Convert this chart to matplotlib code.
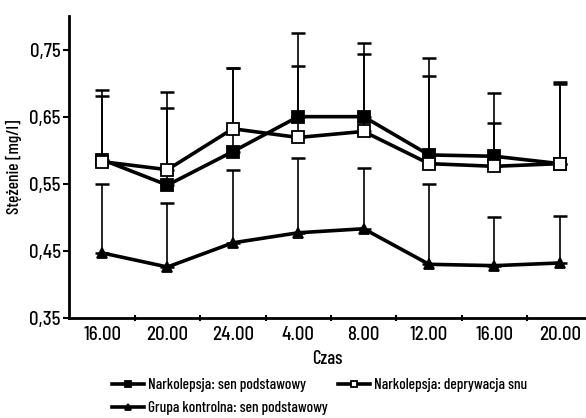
import numpy as np
import matplotlib
matplotlib.use("Agg")
import matplotlib.pyplot as plt

plt.rcParams["font.family"] = ["Barlow Condensed", "Liberation Sans", "DejaVu Sans"]
plt.rcParams["font.weight"] = 500
plt.rcParams["axes.labelweight"] = 500

# Data
times = ["16.00", "20.00", "24.00", "4.00", "8.00", "12.00", "16.00", "20.00"]
narko_base = [0.586, 0.548, 0.598, 0.650, 0.650, 0.593, 0.591, 0.580]
narko_base_sd = [0.104, 0.139, 0.125, 0.124, 0.110, 0.145, 0.095, 0.122]
narko_depr = [0.583, 0.571, 0.632, 0.619, 0.628, 0.580, 0.576, 0.580]
narko_depr_sd = [0.098, 0.092, 0.090, 0.106, 0.115, 0.130, 0.065, 0.119]
control = [0.447, 0.426, 0.462, 0.477, 0.483, 0.430, 0.428, 0.432]
control_sd = [0.103, 0.096, 0.109, 0.112, 0.091, 0.120, 0.073, 0.070]

labels = ["Narkolepsja: sen podstawowy", "Narkolepsja: deprywacja snu",
          "Grupa kontrolna: sen podstawowy"]


def main():
    fig = plt.figure(figsize=(5.86, 4.18), dpi=100)
    ax = fig.add_axes([69 / 586, 1 - 318 / 418, 517 / 586, 302 / 418])

    x = np.arange(len(times))
    series = [
        (narko_base, narko_base_sd, dict(marker="s", mfc="black", ms=8)),
        (narko_depr, narko_depr_sd, dict(marker="s", mfc="white", ms=8)),
        (control, control_sd, dict(marker="^", mfc="black", ms=7.5)),
    ]
    handles = []
    for (vals, sd, style), lab in zip(series, labels):
        vals = np.array(vals)
        sd = np.array(sd)
        ax.errorbar(x, vals, yerr=[np.zeros_like(sd), sd], fmt="none",
                    ecolor="black", elinewidth=1.2, capsize=5, capthick=1.8,
                    zorder=2)
        h, = ax.plot(x, vals, color="black", lw=2.6, mec="black", mew=1.3,
                     zorder=3, label=lab, **style)
        handles.append(h)

    ax.set_xlim(-0.505, 7.4)
    ax.set_xticks(x, times)
    ax.set_xticks(x[:-1] + 0.5, minor=True)
    ax.tick_params(axis="x", which="major", length=0, pad=6)
    ax.tick_params(axis="x", which="minor", length=4, width=1.5, direction="inout")

    yt = [0.35, 0.45, 0.55, 0.65, 0.75]
    ax.set_ylim(0.35, 0.80)
    ax.set_yticks(yt, [f"{v:.2f}".replace(".", ",") for v in yt])
    ax.tick_params(axis="y", length=4, width=1.5, pad=2)
    for lab in ax.get_xticklabels() + ax.get_yticklabels():
        lab.set_fontfamily(["Barlow Semi Condensed", "Barlow Condensed", "DejaVu Sans"])
        lab.set_fontsize(13.5)

    for s in ["top", "right"]:
        ax.spines[s].set_visible(False)
    for s in ["left", "bottom"]:
        ax.spines[s].set_linewidth(2)

    ax.set_xlabel("Czas", fontsize=13.5, labelpad=4)
    ax.set_ylabel("Stężenie [mg/l]", fontsize=12.5, labelpad=5)

    # column-wise fill: first row gets items 1 and 2, second row item 3
    order = [handles[0], handles[2], handles[1]]
    fig.legend(order, [h.get_label() for h in order], ncol=2, frameon=False,
               loc="upper left", bbox_to_anchor=(112 / 586, 1 - 378 / 418),
               fontsize=11, handlelength=2.1, handletextpad=0.25,
               columnspacing=0.7, labelspacing=0.62, borderaxespad=0,
               borderpad=0, markerscale=0.6)

    fig.savefig("out.png", dpi=100, facecolor="white")


if __name__ == "__main__":
    main()
